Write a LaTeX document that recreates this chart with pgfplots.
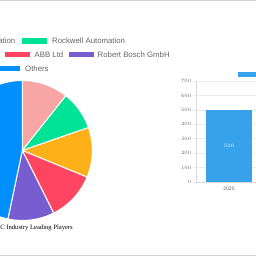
\documentclass[border=0pt]{standalone}
\usepackage{pgfplots}
\pgfplotsset{compat=1.18}
\usepackage{pgfplotstable}
\usepackage{fontspec}
\setmainfont{Liberation Sans}
\newfontfamily\seriffont{Liberation Serif}
\definecolor{cPink}{HTML}{F8A5A5}
\definecolor{cGreen}{HTML}{00E396}
\definecolor{cOrange}{HTML}{FEB019}
\definecolor{cRed}{HTML}{FF4560}
\definecolor{cPurple}{HTML}{775DD0}
\definecolor{cBlue}{HTML}{008FFB}
\definecolor{barblue}{HTML}{36A2EB}
\definecolor{txt}{HTML}{666666}
\definecolor{gridc}{HTML}{EBEBEB}
\definecolor{axisc}{HTML}{D9D9D9}

\pgfplotstableread{
share color
10.7 cPink
9.0 cGreen
11.5 cOrange
11.4 cRed
10.7 cPurple
46.7 cBlue
}\piedata

\begin{document}
\begin{tikzpicture}[x=1pt,y=1pt]
\useasboundingbox (0,0) rectangle (256,256);
\clip (0,0) rectangle (256,256);
\fill[white] (0,0) rectangle (256,256);
\draw[gray!35, line width=1pt] (0,255.5) -- (256,255.5);
\draw[gray!35, line width=1pt] (0,0.6) -- (256,0.6);

% pie chart
\begin{axis}[x=1pt,y=1pt,xmin=-70,xmax=70,ymin=-70,ymax=70,
  hide axis, clip=false, at={(22.3pt,105.5pt)}, anchor=origin]
\xdef\cum{90}
\pgfplotsforeachungrouped \i in {0,...,5}{%
  \pgfplotstablegetelem{\i}{share}\of\piedata \let\sh\pgfplotsretval
  \pgfplotstablegetelem{\i}{color}\of\piedata \let\col\pgfplotsretval
  \pgfmathsetmacro\endang{\cum-3.6*\sh}%
  \edef\temp{\noexpand\filldraw[fill=\col,draw=white,line width=1pt] (axis cs:0,0) -- ++(\cum:70pt) arc[start angle=\cum,end angle=\endang,radius=70pt] -- cycle;}%
  \temp
  \xdef\cum{\endang}%
}
\end{axis}

% pie legend
\begin{scope}[every node/.style={inner sep=0pt, text=txt, font=\fontsize{7.8}{9}\selectfont}]
\node[anchor=base east] at (15.5,212) {Mitsubishi Electric Corporation};
\fill[cGreen] (22,212) rectangle (47,217.5);
\node[anchor=base west] at (52,212) {Rockwell Automation};
\fill[cOrange] (-60,198.5) rectangle (-35,204);
\fill[cRed] (5,198.5) rectangle (30,204);
\node[anchor=base west] at (34.5,198) {ABB Ltd};
\fill[cPurple] (69,198.5) rectangle (93.5,204);
\node[anchor=base west] at (97.5,198) {Robert Bosch GmbH};
\fill[cBlue] (-5,184.5) rectangle (20,190);
\node[anchor=base west] at (25,184.3) {Others};
\node[anchor=base east, text=black, font=\seriffont\fontsize{6.6}{8}\selectfont] at (73,26.5) {PLC Industry Leading Players};
\end{scope}

% bar chart
\begin{axis}[scale only axis, width=60pt, height=101pt,
  at={(196pt,74pt)}, anchor=south west,
  xmin=-0.5, xmax=0.41, ymin=0, ymax=700,
  axis x line*=bottom, axis y line*=left,
  axis line style={-, axisc, line width=0.6pt},
  ytick={0,100,...,700}, ymajorgrids,
  grid style={gridc, line width=0.6pt},
  xtick={0}, xticklabels={2020},
  major tick length=3.5pt, tick align=outside,
  y tick style={gridc, line width=0.6pt}, x tick style={draw=none},
  ticklabel style={font=\fontsize{5}{6}\selectfont, text=txt},
  yticklabel style={inner sep=1pt},
  xticklabel style={inner sep=1.5pt},
  legend style={at={(0.7,1.064)}, anchor=west, draw=none, fill=none,
    inner sep=0pt, font=\fontsize{5}{6}\selectfont, text=txt},
  legend image code/.code={\fill[barblue] (0pt,-2.5pt) rectangle (30pt,2.5pt);},
  clip=false]
\addplot[ybar, bar width=46pt, fill=barblue, draw=none,
  nodes near coords,
  every node near coord/.append style={anchor=center, yshift=-36pt, text=white, font=\fontsize{5}{6}\selectfont}]
  coordinates {(0,500)};
\addlegendentry{Market Size}
\end{axis}
\end{tikzpicture}
\end{document}
